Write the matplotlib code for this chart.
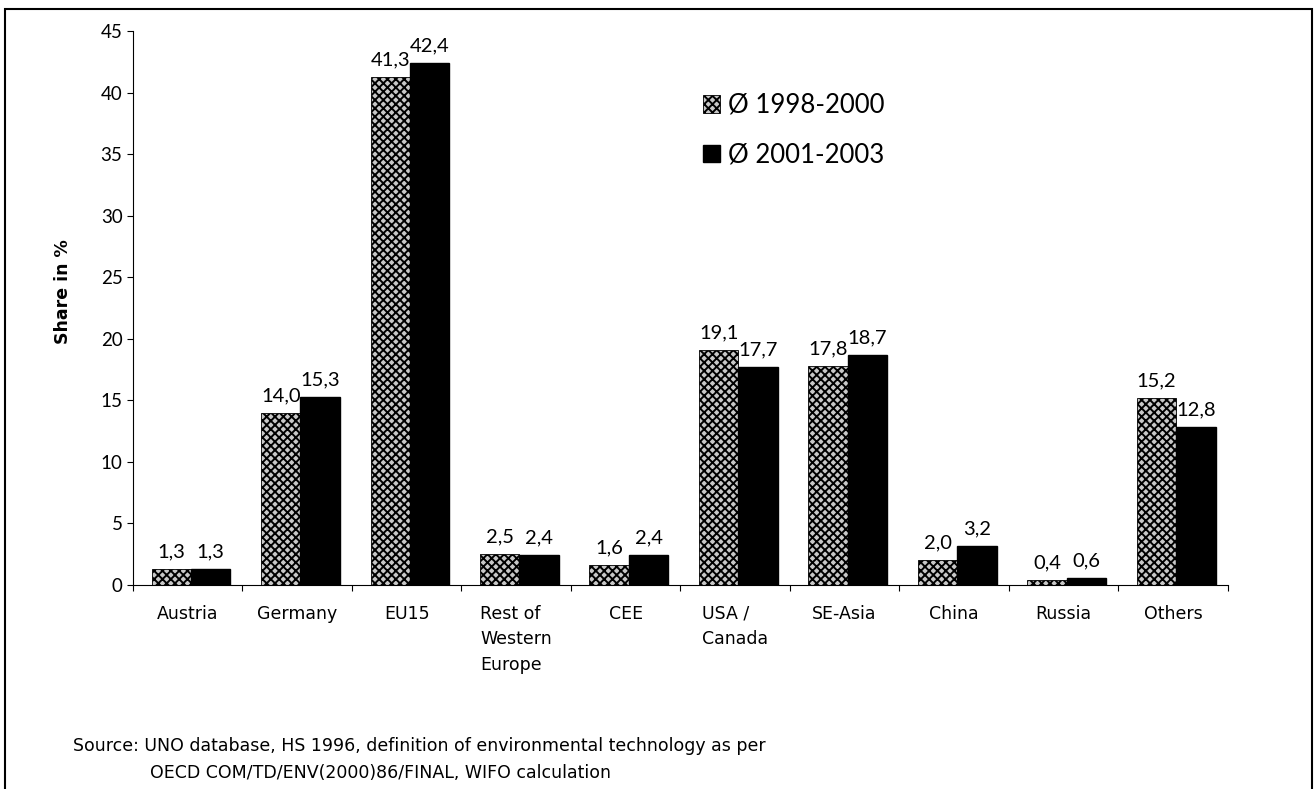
import numpy as np
import matplotlib.pyplot as plt
from matplotlib.patches import Rectangle

categories = ["Austria", "Germany", "EU15", "Rest of\nWestern\nEurope", "CEE",
              "USA /\nCanada", "SE-Asia", "China", "Russia", "Others"]
avg_1998_2000 = [1.3, 14.0, 41.3, 2.5, 1.6, 19.1, 17.8, 2.0, 0.4, 15.2]
avg_2001_2003 = [1.3, 15.3, 42.4, 2.4, 2.4, 17.7, 18.7, 3.2, 0.6, 12.8]
series_names = ["Ø 1998-2000", "Ø 2001-2003"]

plt.rcParams['hatch.linewidth'] = 1.4

fig = plt.figure(figsize=(13.16, 7.89), dpi=100)
ax = fig.add_axes([0.101, 0.2586, 0.832, 0.702])

x = np.arange(len(categories))
w = 0.36
b1 = ax.bar(x - w/2 + 0.03, avg_1998_2000, w, color="#c8c8c8", edgecolor="black",
            hatch="xxxx", linewidth=0.6, label=series_names[0])
b2 = ax.bar(x + w/2 + 0.03, avg_2001_2003, w, color="black", edgecolor="black",
            label=series_names[1])

def fmt(v):
    return f"{v:.1f}".replace(".", ",")

for bars, vals in [(b1, avg_1998_2000), (b2, avg_2001_2003)]:
    for r, v in zip(bars, vals):
        ax.text(r.get_x() + r.get_width()/2, v + 0.7, fmt(v), ha="center", va="bottom",
                fontsize=14.5, family="Lato")

ax.set_xlim(-0.5, len(categories) - 0.5)
ax.set_ylim(0, 45)
ax.set_yticks(range(0, 46, 5))
ax.tick_params(axis="y", labelsize=13.5, length=4, direction="out")
for t in ax.get_yticklabels():
    t.set_family("Lato")

# ticks sit between the category groups
ax.set_xticks(np.arange(len(categories) + 1) - 0.5, minor=False)
ax.set_xticklabels([])
ax.tick_params(axis="x", length=4, direction="out")
for i, c in enumerate(categories):
    ax.text(i, -1.6, c, ha="center", multialignment="left",
            va="top", fontsize=12.5, family="DejaVu Sans", linespacing=1.55,
            transform=ax.transData)

ax.spines["top"].set_visible(False)
ax.spines["right"].set_visible(False)
ax.set_ylabel("Share in %", fontsize=12.5, fontweight="bold", family="DejaVu Sans")
ax.yaxis.set_label_coords(-0.056, 0.53)

ax.legend(loc="upper left", bbox_to_anchor=(0.5, 0.93), frameon=False,
          prop={"family": "Lato", "size": 18.5}, handlelength=0.65, handleheight=0.65,
          handletextpad=0.3, labelspacing=0.95)

fig.text(73/1316, 1 - 746/789, "Source: UNO database, HS 1996, definition of environmental technology as per",
         fontsize=12.5, family="DejaVu Sans", va="center")
fig.text(150/1316, 1 - 773/789, "OECD COM/TD/ENV(2000)86/FINAL, WIFO calculation",
         fontsize=12.5, family="DejaVu Sans", va="center")

# outer frame, bottom edge runs off the page
fig.patches.append(Rectangle((5/1316, -0.05), 1307/1316, 1 - 9/789 + 0.05,
                             transform=fig.transFigure, fill=False, edgecolor="black",
                             linewidth=1.5, figure=fig))

fig.savefig("out.png", dpi=100)
